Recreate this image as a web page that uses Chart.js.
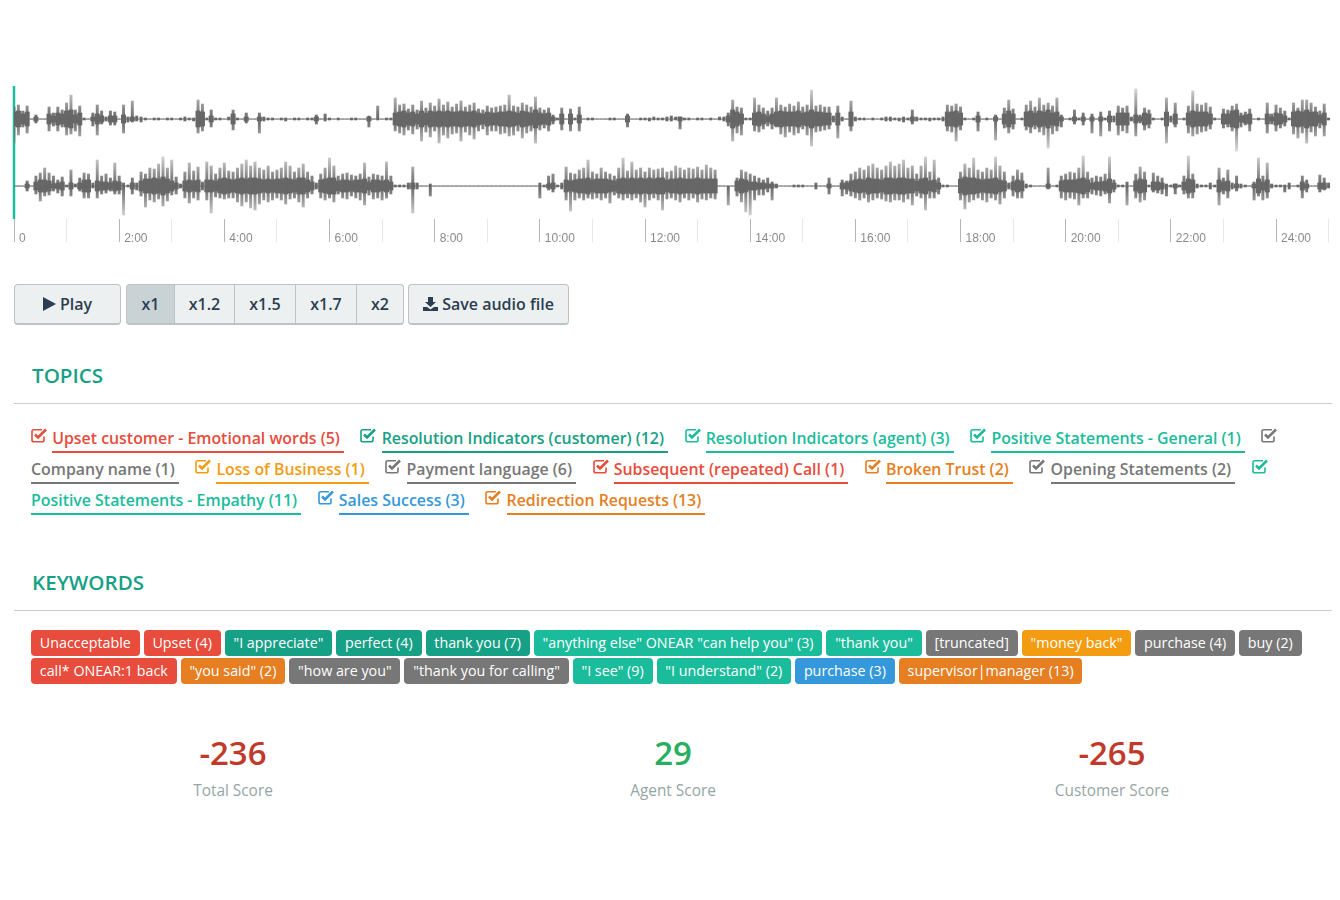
<!DOCTYPE html>
<html>
<head>
<meta charset="utf-8">
<title>Call recording</title>
<script src="https://cdn.jsdelivr.net/npm/chart.js@4"></script>
<style>
  html, body { margin: 0; background: #fff; font-family: "Open Sans", sans-serif; }
  #page { position: relative; width: 1340px; height: 900px; overflow: hidden; }
  #wave { position: absolute; left: 0; top: 80px; filter: blur(0.45px); }
  .btn { position: absolute; top: 284px; height: 38px; line-height: 38px; text-align: center; box-sizing: content-box;
    background: #ecf0f1; border: 1px solid #bdc3c7; border-bottom-width: 2px; color: #2c3e50; font-size: 16px; font-weight: 600; }
  .btn.active { background: #c9d3d6; }
  .btn svg { vertical-align: -1px; margin-right: 4px; }
  h3 { position: absolute; left: 32px; margin: 0; color: #16a085; font-size: 20.6px; font-weight: 600; line-height: 24px; }
  .rule { position: absolute; left: 14px; width: 1318px; height: 1px; background: #ccc; }
  #topics { position: absolute; left: 31px; top: 423px; width: 1285px; line-height: 31px; font-size: 15.9px; font-weight: 600; }
  .topic { margin-right: 12.5px; }
  .topic svg { vertical-align: 1px; }
  .topic span { border-bottom: 2.5px solid; padding-bottom: 2px; padding-right: 4px; white-space: nowrap; }
  #keywords { position: absolute; left: 31px; top: 630px; width: 1290px; font-size: 14.3px; font-weight: 500; line-height: 26px; }
  .kw { display: inline-block; height: 26px; padding: 0 8.8px; margin: 0 4px 2px 0; border-radius: 4px; color: #fff; }
  .score { position: absolute; top: 732px; width: 300px; text-align: center; }
  .score b { display: block; font-size: 33px; font-weight: 600; line-height: 42px; }
  .score i { display: block; font-style: normal; font-size: 15.4px; color: #95a5a6; line-height: 22px; margin-top: 6px; }
</style>
</head>
<body>
<div id="page">
  <canvas id="wave" width="1340" height="170"></canvas>
  <div id="buttons"></div>
  <h3 style="top:363px">TOPICS</h3>
  <div class="rule" style="top:403px"></div>
  <div id="topics"></div>
  <h3 style="top:570px">KEYWORDS</h3>
  <div class="rule" style="top:610px"></div>
  <div id="keywords"></div>
  <div id="scores"></div>
</div>
<script>
// one value every 5 seconds, amplitude
const stepSeconds = 5;
const ch1Up = [
  12,14,8,13,0,4,0,0,12,6, 12,9,16,24,9,13,1,0,6,14, 8,2,8,7,0,14,2,18,3,2,
  1,0,1,1,0,1,1,0,1,2, 1,1,19,15,1,9,1,1,0,2, 9,1,0,6,0,0,6,2,1,1,
  0,1,1,0,1,1,0,1,1,4, 0,5,1,0,1,0,0,1,1,0, 0,3,0,13,0,1,1,21,14,15,
  10,14,9,18,11,16,13,20,14,17, 12,15,18,12,14,16,10,9,13,11, 12,13,14,24,13,12,16,14,12,22,
  11,9,11,4,1,11,0,10,1,12, 0,1,1,0,0,0,1,1,0,0, 5,0,0,1,1,1,2,1,1,2,
  3,2,2,1,1,0,1,1,0,1, 0,2,2,6,19,12,11,1,1,21, 14,11,8,11,21,14,12,15,13,17,
  12,14,29,13,14,12,12,3,13,2, 0,18,2,1,1,0,1,0,1,2, 2,1,1,2,1,9,2,1,1,1,
  1,1,2,14,13,15,12,1,0,1, 7,0,1,0,4,0,11,19,10,0, 1,14,18,12,21,14,16,13,21,4,
  0,1,9,1,6,0,5,0,7,1, 8,3,13,11,13,2,30,4,11,9, 1,0,1,21,3,16,0,1,13,28,
  15,14,16,12,1,0,10,9,13,15, 6,7,10,0,1,0,16,5,14,11, 8,1,16,11,19,19,16,12,8,15, 1
];
const ch1Down = [
  24,16,8,14,0,4,0,0,12,7, 12,8,16,15,12,17,1,0,7,16, 5,2,6,6,0,14,3,3,2,3,
  1,0,1,1,0,1,1,0,1,2, 1,2,14,12,1,8,1,1,0,1, 11,1,0,4,0,0,14,2,1,1,
  0,1,2,0,1,1,0,1,1,5, 0,2,1,0,1,0,0,1,1,0, 0,8,0,1,0,1,1,12,14,16,
  11,15,10,22,13,18,12,24,16,19, 15,14,22,13,16,20,12,10,16,12, 12,15,14,17,16,12,19,14,12,24,
  11,9,12,5,1,11,0,12,1,12, 0,1,1,0,0,0,1,1,0,0, 8,0,0,1,1,2,1,1,1,2,
  2,1,10,1,1,0,1,1,0,1, 0,1,2,7,22,14,16,1,1,12, 13,10,7,10,8,15,18,13,16,14,
  10,16,27,13,12,11,10,3,19,2, 0,12,2,1,1,0,1,0,1,2, 2,1,2,3,1,5,2,1,1,2,
  1,1,2,12,13,22,11,1,0,1, 12,0,1,0,21,0,9,14,10,0, 1,11,14,10,13,16,29,15,12,8,
  0,1,5,1,6,0,14,0,17,1, 12,3,16,12,14,2,17,4,11,9, 1,0,1,24,3,8,0,1,14,17,
  15,13,12,10,1,0,9,8,12,32, 8,6,12,0,1,0,14,5,12,9, 7,1,15,19,14,24,13,17,9,17, 1
];
const ch1Core = [
  7,8,5,7,0,2,0,0,5,3, 6,5,8,9,4,6,0,0,2,5, 3,0,3,3,0,4,0,2,0,0,
  0,0,0,0,0,0,0,0,0,0, 0,0,8,7,0,3,0,0,0,0, 5,0,0,2,0,0,2,0,0,0,
  0,0,0,0,0,0,0,0,0,2, 0,0,0,0,0,0,0,0,0,0, 0,2,0,0,0,0,0,6,7,8,
  6,7,5,8,6,8,7,8,7,8, 7,7,8,7,7,8,6,5,7,6, 6,7,7,8,7,6,8,7,6,9,
  6,5,6,2,0,5,0,5,0,4, 0,0,0,0,0,0,0,0,0,0, 3,0,0,0,0,0,0,0,0,0,
  0,0,2,0,0,0,0,0,0,0, 0,0,0,3,9,7,5,0,0,6, 7,5,3,5,7,8,7,7,7,8,
  6,7,9,7,7,6,6,0,6,0, 0,7,0,0,0,0,0,0,0,0, 0,0,0,0,0,2,0,0,0,0,
  0,0,0,7,7,8,6,0,0,0, 3,0,0,0,2,0,5,8,5,0, 0,7,8,6,8,7,9,6,7,2,
  0,0,2,0,2,0,2,0,2,0, 3,0,6,6,6,0,4,2,6,5, 0,0,0,7,0,5,0,0,6,8,
  7,7,7,5,0,0,5,5,8,9, 3,4,5,0,0,0,5,2,6,5, 3,0,7,8,7,9,7,7,4,6, 0
];
const ch2Up = [
  0,0,0,5,0,10,13,18,13,10, 6,9,1,16,2,8,13,12,3,26, 10,12,8,23,10,3,1,8,3,14,
  12,18,17,22,29,18,26,9,2,14, 23,15,19,4,24,20,12,18,23,15, 14,18,22,26,20,24,18,16,20,14,
  16,18,24,20,14,18,22,14,10,3, 12,18,28,20,10,12,13,11,10,12, 23,9,12,11,10,24,10,1,1,1,
  3,19,3,0,0,2,0,0,0,0, 0,0,0,0,0,0,0,0,0,0, 0,0,0,0,0,0,0,0,0,0,
  3,1,10,12,1,3,19,13,12,16, 18,26,14,12,18,14,12,10,18,28, 15,24,16,18,14,18,16,17,18,14,
  15,20,18,16,18,17,19,16,21,18, 16,0,0,0,0,8,16,14,12,10, 8,6,8,4,2,0,0,0,1,1,
  1,0,0,3,0,0,8,0,0,6, 5,12,14,18,16,20,22,18,16,20, 24,20,22,26,18,20,12,20,29,14,
  26,8,1,1,0,0,14,22,18,28, 16,14,18,16,29,20,14,3,10,16, 13,2,1,0,0,0,18,0,1,10,
  12,14,13,18,30,14,8,10,9,12, 29,6,1,1,4,0,12,19,14,1, 13,10,8,2,1,2,1,10,30,12,
  2,1,1,3,1,18,8,16,3,10, 2,1,0,4,28,10,23,2,1,1, 1,3,0,1,10,6,0,0,11,8, 3
];
const ch2Down = [
  0,0,0,5,0,8,15,10,9,5, 7,10,1,10,1,5,12,12,2,12, 8,7,5,8,8,29,1,8,4,10,
  21,14,16,13,20,15,9,8,2,12, 17,12,14,4,14,27,11,12,13,12, 12,16,20,16,22,24,18,14,16,14,
  12,14,18,13,12,16,21,12,8,3, 12,14,12,16,8,12,13,10,12,14, 19,9,13,12,14,12,8,1,1,1,
  3,27,3,0,0,10,0,0,0,0, 0,0,0,0,0,0,0,0,0,0, 0,0,0,0,0,0,0,0,0,0,
  12,1,4,6,1,3,14,25,14,12, 14,12,13,12,14,12,17,9,12,14, 12,14,12,16,21,14,12,14,24,13,
  12,14,16,12,14,12,16,13,14,12, 13,0,0,19,0,10,16,26,29,14, 9,9,6,14,2,0,0,0,1,1,
  1,0,0,3,0,0,8,0,0,10, 8,10,12,14,12,16,14,12,13,15, 16,14,14,16,13,19,10,12,24,12,
  12,8,1,1,0,0,14,23,16,14, 12,14,16,12,14,18,12,3,10,12, 12,2,1,0,0,0,3,0,1,12,
  14,12,13,19,12,12,8,9,10,8, 17,6,1,1,19,0,12,16,14,1, 6,7,8,10,1,8,1,8,12,12,
  2,1,1,3,1,19,8,12,3,5, 2,1,0,14,10,14,12,2,1,1, 6,3,0,1,12,6,0,0,6,4, 2
];
const ch2Core = [
  0,0,0,2,0,4,6,6,5,2, 3,4,0,3,0,3,6,6,0,5, 4,4,3,5,4,0,0,3,0,5,
  7,7,8,7,9,7,5,3,0,5, 6,5,6,0,6,6,5,7,8,7, 6,7,8,7,8,8,7,6,7,6,
  7,7,8,7,6,8,8,6,4,0, 6,7,8,8,5,6,6,5,6,6, 7,4,6,6,5,6,4,0,0,0,
  0,3,0,0,0,0,0,0,0,0, 0,0,0,0,0,0,0,0,0,0, 0,0,0,0,0,0,0,0,0,0,
  0,0,2,3,0,0,6,5,6,7, 7,8,6,7,7,7,6,5,7,8, 7,8,7,8,7,8,7,8,8,6,
  7,7,8,7,7,7,8,7,7,7, 7,0,0,0,0,5,7,6,4,4, 3,3,2,2,0,0,0,0,0,0,
  0,0,0,0,0,0,2,0,0,3, 3,5,6,7,6,8,7,7,6,8, 8,7,8,8,7,7,5,7,8,5,
  6,3,0,0,0,0,7,9,8,8, 7,6,7,7,8,6,5,0,4,6, 5,0,0,0,0,0,2,0,0,5,
  6,6,6,7,8,6,3,4,4,5, 7,3,0,0,0,0,5,7,6,0, 4,4,3,0,0,2,0,4,7,6,
  0,0,0,0,0,6,4,5,0,2, 0,0,0,2,7,4,6,0,0,0, 0,0,0,0,4,2,0,0,3,3, 0
];
const playheadSeconds = [0, 0];

const topicNames = ["Upset customer - Emotional words (5)", "Resolution Indicators (customer) (12)", "Resolution Indicators (agent) (3)",
  "Positive Statements - General (1)", "Company name (1)", "Loss of Business (1)", "Payment language (6)", "Subsequent (repeated) Call (1)",
  "Broken Trust (2)", "Opening Statements (2)", "Positive Statements - Empathy (11)", "Sales Success (3)", "Redirection Requests (13)"];
const topicColors = ["#e74c3c", "#16a085", "#1abc9c", "#1abc9c", "#777777", "#f39c12", "#777777", "#e74c3c",
  "#e67e22", "#777777", "#1abc9c", "#3498db", "#e67e22"];

const keywordNames = ["Unacceptable", "Upset (4)", "\"I appreciate\"", "perfect (4)", "thank you (7)", "\"anything else\" ONEAR \"can help you\" (3)",
  "\"thank you\"", "[truncated]", "\"money back\"", "purchase (4)", "buy (2)", "call* ONEAR:1 back", "\"you said\" (2)", "\"how are you\"",
  "\"thank you for calling\"", "\"I see\" (9)", "\"I understand\" (2)", "purchase (3)", "supervisor|manager (13)"];
const keywordColors = ["#e74c3c", "#e74c3c", "#16a085", "#16a085", "#16a085", "#1abc9c", "#1abc9c", "#777777", "#f39c12", "#777777", "#777777",
  "#e74c3c", "#e67e22", "#777777", "#777777", "#1abc9c", "#1abc9c", "#3498db", "#e67e22"];

const scoreValues = [-236, 29, -265];
const scoreLabels = ["Total Score", "Agent Score", "Customer Score"];
const scoreColors = ["#c0392b", "#27ae60", "#c0392b"];

const speedLabels = ["x1", "x1.2", "x1.5", "x1.7", "x2"];

// the two channels share one y axis, each around its own centre
const ch1Centre = 100;
const ch2Centre = 33;

function bars(up, down, centre) {
  return up.map((v, i) => ({ x: i * stepSeconds, y: [centre - down[i], centre + v] }));
}

// spikes fade out towards their tips
function fade(centre) {
  return (c) => {
    const y = c.chart.scales.y;
    const top = y ? y.getPixelForValue(centre + 32) : NaN;
    const bottom = y ? y.getPixelForValue(centre - 32) : NaN;
    if (!isFinite(top) || !isFinite(bottom)) return "#666666";
    const g = c.chart.ctx.createLinearGradient(0, top, 0, bottom);
    g.addColorStop(0, "rgba(110,110,110,0.25)");
    g.addColorStop(0.35, "rgba(104,104,104,0.8)");
    g.addColorStop(0.5, "rgba(102,102,102,1)");
    g.addColorStop(0.65, "rgba(104,104,104,0.8)");
    g.addColorStop(1, "rgba(110,110,110,0.25)");
    return g;
  };
}

new Chart(document.getElementById("wave"), {
  type: "bar",
  data: {
    datasets: [
      { data: bars(ch1Up, ch1Down, ch1Centre), backgroundColor: fade(ch1Centre), barThickness: 2.3, grouped: false },
      { data: bars(ch1Core, ch1Core, ch1Centre), backgroundColor: "#666666", barThickness: 4.4, grouped: false },
      { data: bars(ch2Up, ch2Down, ch2Centre), backgroundColor: fade(ch2Centre), barThickness: 2.3, grouped: false },
      { data: bars(ch2Core, ch2Core, ch2Centre), backgroundColor: "#666666", barThickness: 4.4, grouped: false },
      {
        type: "line",
        data: playheadSeconds.map((x, i) => ({ x: x, y: i * 133 })),
        borderColor: "#1abc9c",
        borderWidth: 2.5,
        pointRadius: 0,
        clip: false
      }
    ]
  },
  options: {
    responsive: false,
    animation: false,
    layout: { padding: { left: 14, right: 10, top: 6, bottom: 8 } },
    plugins: { legend: { display: false }, tooltip: { enabled: false } },
    scales: {
      x: {
        type: "linear",
        min: 0,
        max: 1501.6,
        offset: false,
        afterFit: (s) => { s.height = 23; },
        afterBuildTicks: (s) => { s.ticks = []; for (let t = 0; t <= 1500; t += 60) s.ticks.push({ value: t }); },
        border: { display: false },
        grid: {
          offset: false,
          drawOnChartArea: false,
          tickLength: 23,
          tickColor: (c) => (c.tick && c.tick.value % 120 === 0 ? "#b5b5b5" : "#e6e6e6")
        },
        ticks: {
          autoSkip: false,
          maxRotation: 0,
          align: "start",
          labelOffset: 5,
          padding: -11,
          color: "#8a8a8a",
          font: { family: "Liberation Sans", size: 12 },
          callback: (v) => (v === 0 ? "0" : v % 120 === 0 ? v / 60 + ":00" : "")
        }
      },
      y: {
        min: 0,
        max: 133,
        afterFit: (s) => { s.width = 0; },
        afterBuildTicks: (s) => { s.ticks = [{ value: ch2Centre }, { value: ch1Centre }]; },
        border: { display: false },
        grid: { color: "#e8e8e8", drawTicks: false },
        ticks: { display: false }
      }
    }
  }
});

// buttons
const buttonBox = document.getElementById("buttons");
function addButton(left, width, html, radius, active) {
  const b = document.createElement("div");
  b.className = "btn" + (active ? " active" : "");
  b.style.left = left + "px";
  b.style.width = width + "px";
  b.style.borderRadius = radius;
  b.innerHTML = html;
  buttonBox.appendChild(b);
}
const playIcon = '<svg width="13" height="14" viewBox="0 0 13 14"><path d="M0 0L13 7L0 14Z" fill="#2c3e50"/></svg>';
const saveIcon = '<svg width="15" height="14" viewBox="0 0 15 14"><path d="M5 0H10V5H13L7.5 10L2 5H5ZM0 10H4L7.5 12.5L11 10H15V14H0Z" fill="#2c3e50"/></svg>';
addButton(14, 105, playIcon + "Play", "4px", false);
const speedEdges = [126, 174, 234, 295, 356, 403];
speedLabels.forEach((label, i) => {
  const r = i === 0 ? "4px 0 0 4px" : i === speedLabels.length - 1 ? "0 4px 4px 0" : "0";
  addButton(speedEdges[i], speedEdges[i + 1] - speedEdges[i] - 1, label, r, i === 0);
});
addButton(408, 159, saveIcon + "Save audio file", "4px", false);

// topics
const checkIcon = (c) => '<svg width="17" height="15" viewBox="0 0 17 15"><path d="M13 8.5V12a1.8 1.8 0 0 1-1.8 1.8H2.8A1.8 1.8 0 0 1 1 12V3.5a1.8 1.8 0 0 1 1.8-1.8H11" fill="none" stroke="' + c + '" stroke-width="1.6"/><path d="M4 6.5L7 9.5L15 1.5" fill="none" stroke="' + c + '" stroke-width="2.6"/></svg>';
document.getElementById("topics").innerHTML = topicNames.map((name, i) =>
  '<span class="topic">' + checkIcon(topicColors[i]) + ' <span style="color:' + topicColors[i] + ';border-color:' + topicColors[i] + '">' + name + "</span></span> "
).join("");

// keywords
document.getElementById("keywords").innerHTML = keywordNames.map((name, i) =>
  '<span class="kw" style="background:' + keywordColors[i] + '">' + name + "</span>"
).join("");

// scores
const scoreCentres = [233, 673, 1112];
document.getElementById("scores").innerHTML = scoreValues.map((v, i) =>
  '<div class="score" style="left:' + (scoreCentres[i] - 150) + 'px"><b style="color:' + scoreColors[i] + '">' + v + "</b><i>" + scoreLabels[i] + "</i></div>"
).join("");
</script>
</body>
</html>
